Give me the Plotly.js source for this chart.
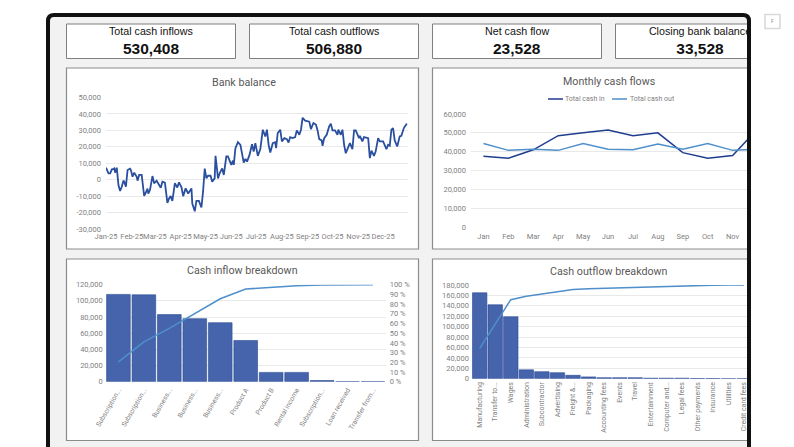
<!DOCTYPE html>
<html><head><meta charset="utf-8">
<script src="https://cdn.plot.ly/plotly-3.0.1.min.js"></script>
<style>html,body{margin:0;padding:0;background:#fff;overflow:hidden}#c{width:794px;height:447px}</style>
</head><body><div id="c"></div>
<script>
// ---------- data ----------
const kpiLabels = ["Total cash inflows","Total cash outflows","Net cash flow"];
const kpiValues = ["530,408","506,880","23,528"];
const closingLabel = "Closing bank balance";
const closingValue = "33,528";

const balanceDays = [0,3,5,7,8,10,11,13,15,17,19,21,22,24,26,29,30,32,34,37,38,40,43,46,48,50,51,53,56,58,61,63,66,68,71,74,76,78,80,83,86,88,91,93,96,99,103,104,107,109,112,115,116,117,119,121,123,126,128,131,132,135,137,140,142,145,147,150,151,153,154,156,159,162,166,168,170,173,176,178,180,183,186,189,192,194,196,198,201,204,205,207,209,210,212,215,218,220,222,225,228,230,233,235,237,240,245,247,250,253,255,257,260,261,263,266,269,271,273,276,279,280,283,285,287,289,291,294,297,299,301,305,306,309,311,316,318,320,323,325,328,330,334,338,340,342,344,346,348,351,354,356,359,362,363];
const balanceValues = [7300,3900,3900,6300,6300,6900,4300,7300,-3300,-6900,-4300,-600,-1200,-4300,5900,6700,5900,1800,4300,1800,-600,2900,2900,-9800,-7800,-5500,-8400,-6300,2200,-2200,-600,-2200,-4900,-1200,-1800,-14100,-11400,-10000,-12900,-2200,-4700,-1600,-4700,-10000,-5300,-8400,-5300,-14500,-19200,-12900,-12900,-16900,-8400,-7300,6700,800,2400,2400,-1200,800,14500,800,3900,6900,2900,14100,14100,10000,9000,11600,9000,19200,22800,21200,10400,12600,11000,15100,21600,17100,22200,14500,18600,30400,26300,30400,21200,16500,22200,22800,19200,28400,30400,30400,23300,25300,24700,22600,25900,25300,25900,30000,27300,30400,37700,35900,35300,30800,34500,33500,30000,24700,23900,20600,25300,27300,32400,34100,30000,30000,27300,30400,27300,30400,21200,16100,18600,22200,18600,30000,30000,25300,26700,23300,25900,25300,13100,17700,14500,17100,25300,23300,23300,18600,21200,20600,30400,31400,23900,20200,26300,26700,31400,33700,33528];
const balanceTickVals = [-30000,-20000,-10000,0,10000,20000,30000,40000,50000];
const balanceTickText = ["-30,000","-20,000","-10,000","0","10,000","20,000","30,000","40,000","50,000"];

const months = ["Jan","Feb","Mar","Apr","May","Jun","Jul","Aug","Sep","Oct","Nov","Dec"];
const cashIn  = [37500,36500,41000,48500,50000,51500,48500,50000,39500,36500,38000,52000];
const cashOut = [44300,40700,41300,40700,44300,41300,41000,44100,41300,44300,40700,41300];

const inflowLabels = ["Subscription...","Subscription...","Business...","Business...","Business...","Product A","Product B","Rental income","Subscription...","Loan received","Transfer from..."];
const inflowValues = [108000,107500,83000,78000,73000,51000,11500,11500,1500,0,0];
const inflowCum = [20.4,41,55,70,85.5,95.5,97.5,99,99.8,100,100];
const pctTicks = [0,10,20,30,40,50,60,70,80,90,100];

const outflowLabels = ["Manufacturing","Transfer to...","Wages","Administration","Subcontractor","Advertising","Freight &...","Packaging","Accounting fees","Events","Travel","Entertainment","Computer and...","Legal fees","Other payments","Insurance","Utilities","Credit card fees"];
const outflowValues = [165000,142000,119000,17000,13500,11500,6500,3500,2000,2000,2000,1000,1000,1000,300,200,100,100];
const outflowCum = [32.4,58,84.3,88,90.5,93.2,95.2,96,96.5,97.3,98,98.4,98.9,99.3,99.6,99.8,99.9,100];

// ---------- helpers ----------
const W=794,H=447;
const X=p=>p/W, Y=p=>1-p/H;
const gray="#7f7f7f", grid="#e9e9e9", barBlue="#4564ac", barEdge="#2a4a94", lineLight="#4f8fca", lineDark="#2a4f9f", inDark="#1f3d8f";
const kpiFont="Liberation Sans, Arial, sans-serif";
const tickFont={family:"Roboto, sans-serif",size:7.5,color:gray};
const rect=(x0,y0,x1,y1,fill,line,lw,layer)=>({type:"rect",xref:"paper",yref:"paper",x0:X(x0),x1:X(x1),y0:Y(y1),y1:Y(y0),fillcolor:fill,line:{color:line||fill,width:lw===undefined?1:lw},layer:layer||"below"});
const seg=(x0,x1,y,color)=>({type:"line",xref:"paper",yref:"paper",x0:X(x0),x1:X(x1),y0:Y(y),y1:Y(y),line:{color:color,width:1.5},layer:"below"});
const note=(x,y,text,size,color,bold,family,anchor)=>({xref:"paper",yref:"paper",x:X(x),y:Y(y),xanchor:anchor||"center",yanchor:"middle",showarrow:false,xshift:0,borderpad:0,text:bold?"<b>"+text+"</b>":text,font:{family:family||"Roboto, sans-serif",size:size,color:color}});
const dom=(a,b)=>[X(a),X(b)];
const domY=(top,bottom)=>[Y(bottom),Y(top)];
const dateOf=d=>new Date(Date.UTC(2025,0,1+d)).toISOString().slice(0,10);
const yAxis=(domain,anchor,extra)=>Object.assign({domain:domain,anchor:anchor,showgrid:true,gridcolor:grid,gridwidth:1,zeroline:false,showline:false,ticks:"",tickfont:tickFont,tickformat:",d"},extra);
const xAxis=(domain,anchor,extra)=>Object.assign({domain:domain,anchor:anchor,showgrid:false,zeroline:false,showline:false,ticks:"",tickfont:tickFont},extra);

const traces=[
 {type:"scatter",mode:"lines",x:balanceDays.map(dateOf),y:balanceValues,xaxis:"x",yaxis:"y",line:{color:lineDark,width:1.8},name:"Bank balance"},
 {type:"scatter",mode:"lines",x:months,y:cashIn,xaxis:"x2",yaxis:"y2",line:{color:inDark,width:1.5},name:"Total cash in"},
 {type:"scatter",mode:"lines",x:months,y:cashOut,xaxis:"x2",yaxis:"y2",line:{color:lineLight,width:1.5},name:"Total cash out"},
 {type:"bar",x:inflowLabels.map((_,i)=>i),y:inflowValues,xaxis:"x3",yaxis:"y3",marker:{color:barBlue,line:{color:barEdge,width:0.6}},name:"Cash inflow"},
 {type:"scatter",mode:"lines",x:inflowLabels.map((_,i)=>i),y:inflowCum,xaxis:"x3",yaxis:"y4",line:{color:lineLight,width:1.5},name:"Cumulative"},
 {type:"bar",x:outflowLabels.map((_,i)=>i),y:outflowValues,xaxis:"x4",yaxis:"y5",marker:{color:barBlue,line:{color:barEdge,width:0.6}},name:"Cash outflow"},
 {type:"scatter",mode:"lines",x:outflowLabels.map((_,i)=>i),y:outflowCum,xaxis:"x4",yaxis:"y6",line:{color:lineLight,width:1.5},name:"Cumulative"},
 // clipped card text sits under the frame, so it is drawn as a trace on a full-page overlay axis
 {type:"scatter",mode:"text",x:[700,700],y:[32,50],text:[closingLabel,"<b>"+closingValue+"</b>"],textposition:"middle center",textfont:{family:kpiFont,size:[10.7,15.5],color:"#111"},xaxis:"x5",yaxis:"y7",hoverinfo:"skip"}
];

const shapes=[
 rect(48,15,749,447,"#f2f2f2"),
 rect(66.5,24,235.5,58.5,"#fff",gray),
 rect(249.5,24,418.5,58.5,"#fff",gray),
 rect(432.5,24,601.5,58.5,"#fff",gray),
 rect(615.5,24,760,58.5,"#fff",gray),
 rect(66.5,68,418.5,249,"#fff","#8c8c8c",1.2),
 rect(432.5,68,760,249,"#fff","#8c8c8c",1.2),
 rect(66.5,259,418.5,440.5,"#fff","#8c8c8c",1.2),
 rect(432.5,259,760,440.5,"#fff","#8c8c8c",1.2),
 seg(548,563,99,inDark),
 seg(612,627,99,lineLight),
 // page strip and window frame drawn over the charts
 rect(751,0,794,447,"#fff","#fff",0,"above"),
 {type:"path",xref:"paper",yref:"paper",layer:"above",line:{color:"#111",width:4},fillcolor:"rgba(0,0,0,0)",
  path:`M ${X(48)} ${Y(460)} L ${X(48)} ${Y(21)} Q ${X(48)} ${Y(15)} ${X(54)} ${Y(15)} L ${X(743)} ${Y(15)} Q ${X(749)} ${Y(15)} ${X(749)} ${Y(21)} L ${X(749)} ${Y(460)}`},
 rect(765,14.5,780,28.5,"#fff","#d9d9d9",1.6,"above")
];

const annotations=[
 note(151,31.3,kpiLabels[0],10.7,"#111",false,kpiFont),
 note(334,31.3,kpiLabels[1],10.7,"#111",false,kpiFont),
 note(517,31.3,kpiLabels[2],10.7,"#111",false,kpiFont),
 note(151,48.3,kpiValues[0],15.5,"#111",true,kpiFont),
 note(334,48.3,kpiValues[1],15.5,"#111",true,kpiFont),
 note(517,48.3,kpiValues[2],15.5,"#111",true,kpiFont),
 note(244,82.7,"Bank balance",10.7,"#595959"),
 note(608.7,81.5,"Monthly cash flows",10.7,"#595959"),
 note(242.7,270.7,"Cash inflow breakdown",10.7,"#595959"),
 note(608.7,271,"Cash outflow breakdown",10.7,"#595959"),
 note(564,99,"Total cash in",7,gray,false,null,"left"),
 note(629,99,"Total cash out",7,gray,false,null,"left"),
 note(772.5,21.5,"F",5,"#8c8c8c")
];

const layout={
 width:W,height:H,margin:{l:0,r:0,t:0,b:0},paper_bgcolor:"#fff",plot_bgcolor:"rgba(0,0,0,0)",
 barmode:"group",bargap:0.07,hovermode:false,font:{family:"Roboto, sans-serif"},
 showlegend:false,
 shapes:shapes,annotations:annotations,

 xaxis:xAxis(dom(106,408),"y",{type:"date",range:["2025-01-01","2025-12-31"],dtick:"M1",tick0:"2025-01-01",tickformat:"%b-%y",ticklabelmode:"instant",tickangle:0,ticklabelstandoff:1}),
 yaxis:yAxis(domY(97.5,229),"x",{range:[-30000,50000],tickvals:balanceTickVals,ticktext:balanceTickText,ticklabelstandoff:4}),

 xaxis2:xAxis(dom(471,770),"y2",{type:"category",categoryorder:"array",categoryarray:months,range:[-0.5,11.5],tickangle:0,ticklabelstandoff:3}),
 yaxis2:yAxis(domY(114,227),"x2",{range:[0,60000],dtick:10000,ticklabelstandoff:4}),

 xaxis3:xAxis(dom(105.7,385.7),"y3",{range:[-0.5,10.5],tickmode:"array",tickvals:inflowLabels.map((_,i)=>i),ticktext:inflowLabels,tickangle:-60,tickfont:{family:"Roboto, sans-serif",size:6.8,color:gray},ticklabelstandoff:2}),
 yaxis3:yAxis(domY(284.7,381.7),"x3",{range:[0,120000],dtick:20000,ticklabelstandoff:2}),
 yaxis4:yAxis(domY(284.7,381.7),"x3",{overlaying:"y3",side:"right",range:[0,100],tickvals:pctTicks,ticktext:pctTicks.map(v=>v+" %"),showgrid:false,ticklabelstandoff:3}),

 xaxis4:xAxis(dom(471.9,767.4),"y5",{range:[-0.5,18.5],tickmode:"array",tickvals:outflowLabels.map((_,i)=>i),ticktext:outflowLabels,tickangle:-90,tickfont:{family:"Roboto, sans-serif",size:7,color:gray},ticklabelstandoff:1}),
 yaxis5:yAxis(domY(285,378.7),"x4",{range:[0,180000],dtick:20000,ticklabelstandoff:2}),
 yaxis6:yAxis(domY(285,378.7),"x4",{overlaying:"y5",side:"right",range:[0,100],showgrid:false,showticklabels:false}),

 xaxis5:{domain:[0,1],range:[0,W],visible:false,anchor:"y7",fixedrange:true},
 yaxis7:{domain:[0,1],range:[H,0],visible:false,anchor:"x5",fixedrange:true}
};
Plotly.newPlot("c",traces,layout,{staticPlot:true,displayModeBar:false});
</script></body></html>
